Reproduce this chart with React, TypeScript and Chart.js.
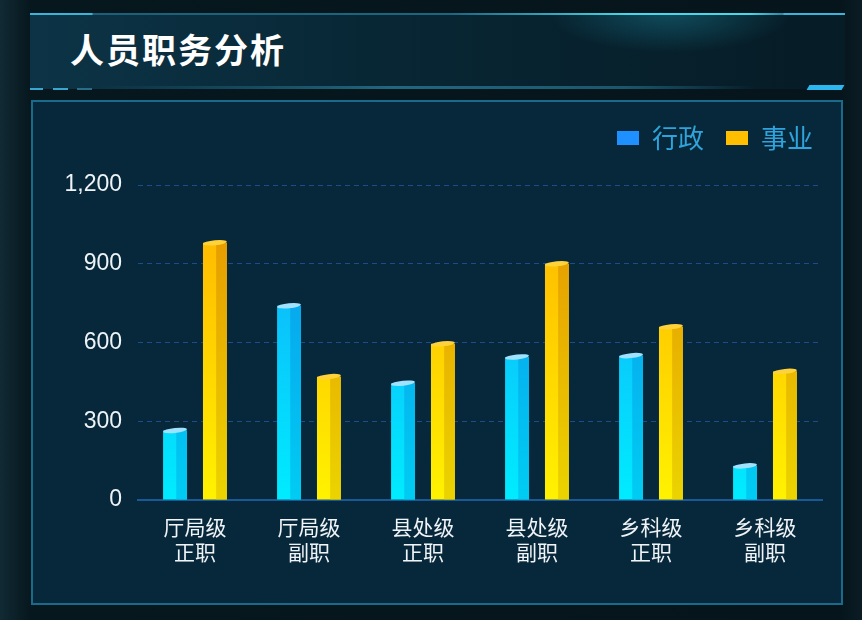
import React, { useEffect, useRef } from "react";
import { Chart, registerables } from "chart.js";

Chart.register(...registerables);

const categories: string[][] = [
  ["厅局级", "正职"],
  ["厅局级", "副职"],
  ["县处级", "正职"],
  ["县处级", "副职"],
  ["乡科级", "正职"],
  ["乡科级", "副职"],
];
const xingzheng: number[] = [265, 740, 445, 545, 550, 130];
const shiye: number[] = [980, 470, 595, 900, 660, 490];
const yTicks: number[] = [0, 300, 600, 900, 1200];
const seriesNames: string[] = ["行政", "事业"];

const FONT = "'Noto Sans CJK SC', 'Noto Sans', sans-serif";

function vGrad(chart: any, bottom: string, top: string) {
  const area = chart.chartArea;
  if (!area) return bottom;
  const g = chart.ctx.createLinearGradient(0, area.bottom, 0, area.top);
  g.addColorStop(0, bottom);
  g.addColorStop(1, top);
  return g;
}

const bar3d = {
  id: "bar3d",
  afterDatasetsDraw(chart: any) {
    const ctx = chart.ctx;
    const styles = [
      { side: ["#00c4f0", "#0a8fe6"], cap: "#9fe2ff" },
      { side: ["#e6cc00", "#df8a00"], cap: "#ffd23a" },
    ];
    chart.data.datasets.forEach((_: any, di: number) => {
      const meta = chart.getDatasetMeta(di);
      const st = styles[di];
      meta.data.forEach((el: any) => {
        const { x, y, base, width } = el.getProps(["x", "y", "base", "width"], true);
        const left = x - width / 2;
        const sideL = left + width * 0.55;
        const right = x + width / 2;
        ctx.save();
        const g = ctx.createLinearGradient(0, base, 0, chart.chartArea.top);
        g.addColorStop(0, st.side[0]);
        g.addColorStop(1, st.side[1]);
        ctx.fillStyle = g;
        ctx.globalAlpha = 0.8;
        ctx.fillRect(sideL, y, right - sideL, base - y);
        ctx.globalAlpha = 1;
        ctx.beginPath();
        ctx.ellipse(x, y, width / 2, 2.5, -0.1, 0, Math.PI * 2);
        ctx.fillStyle = st.cap;
        ctx.fill();
        ctx.restore();
      });
    });
  },
};

const legendTweak = {
  id: "legendTweak",
  beforeLayout(chart: any) {
    const lg = chart.legend;
    if (lg && !lg.__patched) {
      const orig = lg.fit;
      lg.fit = function () {
        orig.call(this);
        this.height += 24;
      };
      lg.__patched = true;
    }
  },
  afterLayout(chart: any) {
    if (chart.legend) {
      chart.legend.left += 13;
      chart.legend.right += 13;
    }
  },
};

export default function App() {
  const ref = useRef<HTMLCanvasElement | null>(null);

  useEffect(() => {
    if (!ref.current) return;
    const chart = new Chart(ref.current, {
      type: "bar",
      data: {
        labels: categories,
        datasets: [
          {
            label: seriesNames[0],
            data: xingzheng,
            backgroundColor: (c: any) => vGrad(c.chart, "#00ecff", "#12a6f8"),
            borderWidth: 0,
            categoryPercentage: 0.7,
            barPercentage: 0.6,
          },
          {
            label: seriesNames[1],
            data: shiye,
            backgroundColor: (c: any) => vGrad(c.chart, "#fff200", "#ffb000"),
            borderWidth: 0,
            categoryPercentage: 0.7,
            barPercentage: 0.6,
          },
        ],
      },
      options: {
        responsive: false,
        animation: false,
        layout: { padding: { top: 2, right: 20, bottom: 0, left: 0 } },
        plugins: {
          tooltip: { enabled: false },
          legend: {
            position: "top",
            align: "end",
            labels: {
              boxWidth: 22,
              boxHeight: 14,
              padding: 22,
              color: "#2fa3dc",
              font: { family: FONT, size: 26 },
              generateLabels: () =>
                seriesNames.map((n, i) => ({
                  text: n,
                  fillStyle: i === 0 ? "#1e90ff" : "#ffbe00",
                  strokeStyle: "transparent",
                  lineWidth: 0,
                  fontColor: "#2fa3dc",
                  datasetIndex: i,
                  hidden: false,
                })),
            },
          },
        },
        scales: {
          x: {
            grid: { display: false, drawTicks: false },
            border: { display: true, color: "#1b5896", width: 2 },
            ticks: {
              color: "#f0f4f8",
              padding: 14,
              font: { family: FONT, size: 21, lineHeight: 1.2 },
              maxRotation: 0,
              autoSkip: false,
            },
            afterFit: (s: any) => {
              s.height = 104;
            },
          },
          y: {
            min: 0,
            max: 1200,
            afterBuildTicks: (s: any) => {
              s.ticks = yTicks.map((v) => ({ value: v }));
            },
            grid: { color: "#1e4b8c", lineWidth: 1, drawTicks: false },
            border: { display: false, dash: [5, 4] },
            ticks: {
              color: "#eef3f7",
              padding: 16,
              font: { family: "'Liberation Sans', Arial, sans-serif", size: 23 },
              callback: (v: any) => Number(v).toLocaleString("en-US"),
            },
            afterFit: (s: any) => {
              s.width = 106;
            },
          },
        },
      },
      plugins: [bar3d, legendTweak],
    } as any);
    return () => chart.destroy();
  }, []);

  return (
    <div
      style={{
        position: "fixed",
        left: 0,
        top: 0,
        width: 862,
        height: 620,
        overflow: "hidden",
        background: "linear-gradient(90deg, #112a34 0px, #07171e 30px, #06151c 840px, #0b1c24 862px)",
      }}
    >
      <div
        style={{
          position: "absolute",
          left: 30,
          top: 13,
          width: 815,
          height: 76,
          background:
            "radial-gradient(ellipse 120px 40px at 640px 0px, rgba(40,190,220,0.28), rgba(40,190,220,0) 100%), linear-gradient(90deg, #0c3446 0%, #082634 45%, #061c26 100%)",
        }}
      />
      <div
        style={{
          position: "absolute",
          left: 30,
          top: 13,
          width: 815,
          height: 2,
          background:
            "linear-gradient(90deg, #3cb4da 0px, #3cb4da 62px, #1d5f78 63px, #1d6680 420px, #49d8ea 600px, #49d8ea 720px, #2a8ca8 752px, #2a8ca8 753px, #3cb4da 754px, #3cb4da 815px)",
        }}
      />
      <div style={{ position: "absolute", left: 30, top: 88, width: 13, height: 2, background: "#3aa6d0" }} />
      <div style={{ position: "absolute", left: 53, top: 88, width: 15, height: 2, background: "#3aa6d0" }} />
      <div style={{ position: "absolute", left: 77, top: 88, width: 15, height: 2, background: "#2a6d88" }} />
      <div
        style={{
          position: "absolute",
          left: 95,
          top: 86,
          width: 660,
          height: 3,
          background:
            "linear-gradient(90deg, rgba(30,90,115,0) 0%, rgba(36,110,135,0.9) 45%, rgba(36,110,135,0.7) 80%, rgba(30,90,115,0) 100%)",
        }}
      />
      <div
        style={{
          position: "absolute",
          left: 808,
          top: 85,
          width: 35,
          height: 5,
          background: "#2cb8ee",
          transform: "skewX(-30deg)",
        }}
      />
      <div
        style={{
          position: "absolute",
          left: 70,
          top: 25,
          color: "#ffffff",
          fontFamily: FONT,
          fontWeight: 700,
          fontSize: 34,
          lineHeight: "48px",
          letterSpacing: 2,
          whiteSpace: "nowrap",
        }}
      >
        人员职务分析
      </div>
      <div
        style={{
          position: "absolute",
          left: 31,
          top: 100,
          width: 808,
          height: 501,
          border: "2px solid #1a6a8c",
          background: "#06283a",
        }}
      />
      <canvas
        ref={ref}
        width={810}
        height={503}
        style={{ position: "absolute", left: 32, top: 101, width: 810, height: 503 }}
      />
    </div>
  );
}
